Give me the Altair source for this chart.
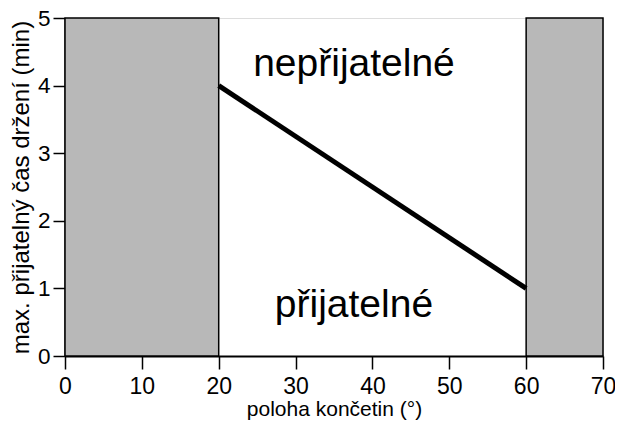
import altair as alt
import pandas as pd

# data
rect_x1 = [0, 60]
rect_x2 = [20, 70]
rect_y1 = [0, 0]
rect_y2 = [5, 5]
line_x = [20, 60]
line_y = [4, 1]
label_text = ["nepřijatelné", "přijatelné"]
label_x = [37.6, 37.6]
label_y = [4.32, 0.75]
x_ticks = [0, 10, 20, 30, 40, 50, 60, 70]
y_ticks = [0, 1, 2, 3, 4, 5]

rects = pd.DataFrame({"x": rect_x1, "x2": rect_x2, "y": rect_y1, "y2": rect_y2})
line = pd.DataFrame({"x": line_x, "y": line_y})
labels = pd.DataFrame({"t": label_text, "x": label_x, "y": label_y})

FONT = "Liberation Sans"

xs = alt.Scale(domain=[0, 70], nice=False, zero=False)
ys = alt.Scale(domain=[0, 5], nice=False, zero=False)

common = dict(grid=False, tickWidth=1.5, domainWidth=2,
              domainColor="black", tickColor="black", labelColor="black",
              titleColor="black", labelFont=FONT, titleFont=FONT,
              titleFontWeight="normal", labelFlush=False, format="d")

xaxis = alt.Axis(values=x_ticks, title="poloha končetin (°)", titleFontSize=21,
                 labelFontSize=23, labelPadding=6, titlePadding=0, tickSize=13, **common)
yaxis = alt.Axis(values=y_ticks, title="max. přijatelný čas držení (min)", titleFontSize=24,
                 labelFontSize=22.5, labelPadding=3, titlePadding=4, tickSize=12, **common)

rect_layer = alt.Chart(rects).mark_rect(fill="#b8b8b8", stroke="black", strokeWidth=1.5).encode(
    x=alt.X("x:Q", scale=xs, axis=xaxis),
    x2="x2:Q",
    y=alt.Y("y:Q", scale=ys, axis=yaxis),
    y2="y2:Q",
)

line_layer = alt.Chart(line).mark_line(color="black", strokeWidth=5).encode(
    x=alt.X("x:Q", scale=xs),
    y=alt.Y("y:Q", scale=ys),
)

text_layer = alt.Chart(labels).mark_text(fontSize=39, font=FONT, color="black",
                                         align="center", baseline="middle").encode(
    x=alt.X("x:Q", scale=xs),
    y=alt.Y("y:Q", scale=ys),
    text="t:N",
)

chart = alt.layer(rect_layer, line_layer, text_layer).properties(
    width=538, height=338,
    autosize=alt.AutoSizeParams(type="none"),
    padding={"left": 57, "top": 10, "right": 12, "bottom": 64},
).configure_view(strokeWidth=0).configure(background="white")

chart.save("out.html", embed_options={"renderer": "svg", "actions": False})
